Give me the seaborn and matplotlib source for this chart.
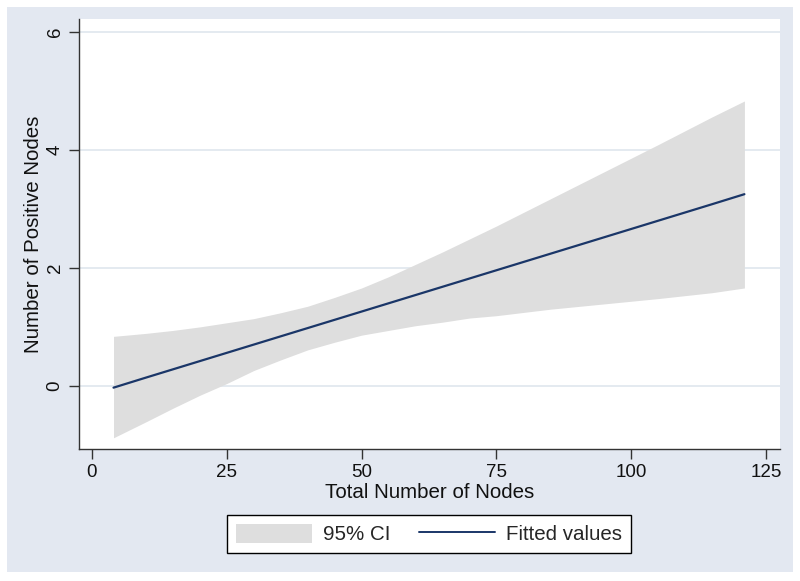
import matplotlib
matplotlib.use("Agg")
import matplotlib.pyplot as plt
from matplotlib.patches import Rectangle, Patch
from matplotlib.lines import Line2D
import seaborn as sns
import pandas as pd

# values
total_nodes = [4, 10, 15, 20, 25, 30, 35, 40, 45, 50, 55, 60, 65, 70, 75, 85, 95, 105, 115, 121]
fitted = [-0.03, 0.14, 0.28, 0.42, 0.56, 0.70, 0.84, 0.98, 1.12, 1.26, 1.40, 1.54, 1.68,
          1.82, 1.96, 2.24, 2.52, 2.80, 3.08, 3.25]
ci_upper = [0.84, 0.89, 0.94, 1.00, 1.07, 1.14, 1.24, 1.35, 1.50, 1.66, 1.85, 2.06, 2.27,
            2.49, 2.71, 3.17, 3.63, 4.09, 4.56, 4.83]
ci_lower = [-0.88, -0.61, -0.38, -0.16, 0.04, 0.26, 0.44, 0.61, 0.74, 0.86, 0.94, 1.02, 1.08,
            1.15, 1.19, 1.30, 1.39, 1.48, 1.58, 1.66]
x_ticks = [0, 25, 50, 75, 100, 125]
y_ticks = [0, 2, 4, 6]

df = pd.DataFrame({"x": total_nodes, "fit": fitted, "hi": ci_upper, "lo": ci_lower})

sns.set_style("ticks")
plt.rcParams["font.family"] = ["Liberation Sans", "DejaVu Sans"]

bg = "#e3e8f1"
line_col = "#1a3668"
ci_col = "#dedede"

fig = plt.figure(figsize=(8, 5.81), dpi=100)
fig.patch.set_facecolor("white")
fig.patches.append(Rectangle((7 / 800, 1 - 572 / 581), 786 / 800, 565 / 581,
                             transform=fig.transFigure, facecolor=bg,
                             edgecolor="none", zorder=-10))

ax = fig.add_axes([79 / 800, 1 - 449 / 581, 701 / 800, 430 / 581])
ax.set_facecolor("white")

ax.fill_between(df["x"], df["lo"], df["hi"], color=ci_col, linewidth=0, zorder=2)
sns.lineplot(data=df, x="x", y="fit", ax=ax, color=line_col, linewidth=1.6, zorder=3)

ax.set_xlim(-2.4, 127.6)
ax.set_ylim(-1.07, 6.22)
ax.set_xticks(x_ticks)
ax.set_yticks(y_ticks)
ax.yaxis.grid(True, color="#dfe6ee", linewidth=1.2, zorder=1)
ax.set_axisbelow(True)

for side in ["top", "right"]:
    ax.spines[side].set_visible(False)
for side in ["left", "bottom"]:
    ax.spines[side].set_color("#333333")
    ax.spines[side].set_linewidth(1.0)

ax.tick_params(axis="both", length=7, width=1, color="#333333", labelsize=13.5,
               labelcolor="#111111", pad=4)
ax.tick_params(axis="y", labelrotation=90)
for lab in ax.get_yticklabels():
    lab.set_verticalalignment("center")

ax.set_xlabel("Total Number of Nodes", fontsize=14.8, color="#111111", labelpad=1)
ax.set_ylabel("Number of Positive Nodes", fontsize=14.8, color="#111111", labelpad=2.5)

handles = [Patch(facecolor=ci_col, edgecolor="none"),
           Line2D([0], [0], color=line_col, linewidth=1.4)]
leg = fig.legend(handles, ["95% CI", "Fitted values"], ncol=2,
                 loc="center", bbox_to_anchor=(429 / 800, 1 - 534 / 581),
                 fontsize=14.8, frameon=True, fancybox=False, edgecolor="black",
                 facecolor="white", framealpha=1,
                 handlelength=3.7, handleheight=1.1, columnspacing=1.4,
                 handletextpad=0.55, borderpad=0.4)
leg.get_frame().set_linewidth(1.0)

fig.savefig("out.png", dpi=100, facecolor=fig.get_facecolor())
